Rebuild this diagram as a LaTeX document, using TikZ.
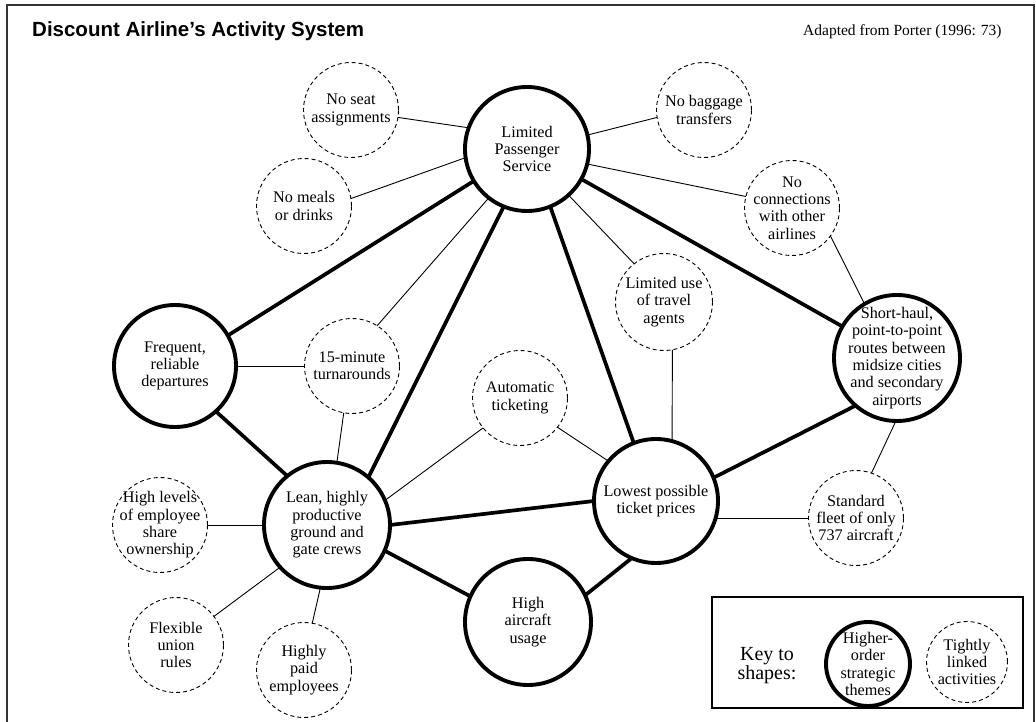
\documentclass[tikz,border=0pt]{standalone}
\usepackage{fontspec}
\setmainfont{Liberation Serif}
\newfontfamily\headfont{Liberation Sans}
\begin{document}
\begin{tikzpicture}[x=1pt,y=-1pt,
  theme/.style={circle, draw, line width=3.9pt, fill=white, inner sep=0pt, outer sep=0pt, minimum size=124pt},
  activity/.style={circle, draw, dash pattern=on 4pt off 3pt, line width=0.9pt, fill=white, inner sep=0pt, outer sep=0pt, minimum size=95pt},
  txt/.style={align=center, inner sep=0pt, font=\fontsize{16.2}{17.4}\selectfont},
  tie/.style={line width=3.7pt},
  link/.style={line width=0.9pt}]
\useasboundingbox (0,0) rectangle (1036,722);

% outer frame
\draw[line width=1.3pt, black!80] (1034,722) -- (1034,5) -- (7,5) -- (7,722);

% headings
\node[anchor=base west, inner sep=0pt, font=\headfont\bfseries\fontsize{20.5}{24}\selectfont] (title) at (32,37) {Discount Airline’s Activity System};
\node[anchor=base west, inner sep=0pt, font=\fontsize{15.5}{18}\selectfont] (source) at (803,36) {Adapted from Porter (1996: 73)};

% higher-order strategic themes
\node[theme] (lps)  at (527,149) {};
\node[theme, minimum size=122pt] (fr) at (175,366) {};
\node[theme, minimum size=126pt] (lean) at (327,525) {};
\node[theme] (lo)   at (656,501) {};
\node[theme, minimum size=126pt] (sh) at (897,358) {};
\node[theme, minimum size=126pt] (ha) at (528,622) {};

% tightly linked activities
\node[activity] (ns) at (351,110) {};
\node[activity] (nm) at (304,206) {};
\node[activity] (nb) at (704,110) {};
\node[activity] (nc) at (792,208) {};
\node[activity, minimum size=97pt] (lu) at (664,302) {};
\node[activity] (tm) at (352,366) {};
\node[activity] (autotk) at (520,398) {};
\node[activity] (sf) at (856,518) {};
\node[activity] (hl) at (160,525) {};
\node[activity] (fx) at (176,645) {};
\node[activity] (hp) at (304,670) {};

% labels
\node[txt] (lps-t) at (lps) {Limited\\Passenger\\Service};
\node[txt] (fr-t) at (fr) {Frequent,\\reliable\\departures};
\node[txt] (lean-t) at (lean) {Lean, highly\\productive\\ground and\\gate crews};
\node[txt] (lo-t) at (lo) {Lowest possible\\ticket prices};
\node[txt] (sh-t) at (sh) {Short-haul,\\point-to-point\\routes between\\midsize cities\\and secondary\\airports};
\node[txt] (ha-t) at (ha) {High\\aircraft\\usage};
\node[txt] (ns-t) at (ns) {No seat\\assignments};
\node[txt] (nm-t) at (nm) {No meals\\or drinks};
\node[txt] (nb-t) at (nb) {No baggage\\transfers};
\node[txt] (nc-t) at (nc) {No\\connections\\with other\\airlines};
\node[txt] (lu-t) at (lu) {Limited use\\of travel\\agents};
\node[txt] (tm-t) at (tm) {15-minute\\turnarounds};
\node[txt] (autotk-t) at (autotk) {Automatic\\ticketing};
\node[txt] (sf-t) at (sf) {Standard\\fleet of only\\737 aircraft};
\node[txt] (hl-t) at (hl) {High levels\\of employee\\share\\ownership};
\node[txt] (fx-t) at (fx) {Flexible\\union\\rules};
\node[txt] (hp-t) at (hp) {Highly\\paid\\employees};

% links between themes
\draw[tie] (lps.-149.2) -- (fr.30.4);
\draw[tie] (lps.-112.5) -- (lean.49.5);
\draw[tie] (lps.-68.7) -- (lo.111.5);
\draw[tie] (lps.-29.6) -- (sh.150);
\draw[tie] (fr.-48.7) -- (lean.129.8);
\draw[tie] (lean.-0.9) -- (lo.180.9);
\draw[tie] (lean.-24.1) -- (ha.156);
\draw[tie] (lo.-113.2) -- (ha.25);
\draw[tie] (sh.-131.9) -- (lo.22.8);

% links to activities
\draw[link] (ns.-9.5) -- (lps.160.2);
\draw[link] (nm.9.5) -- (lps.188);
\draw[link] (lps.13.8) -- (nb.189.7);
\draw[link] (lps.-14.7) -- (nc.166.8);
\draw[link] (lps.-48.6) -- (lu.128.7);
\draw[link] (lps.-128.4) -- (tm.58.6);
\draw[link] (nc.-36) -- (sh.121.3);
\draw[link] (fr.east) -- (tm.west);
\draw[link] (tm.-100.6) -- (lean.81.9);
\draw[link] (autotk.-141.3) -- (lean.23.9);
\draw[link] (autotk.-38.7) -- (lo.140.5);
\draw[link] (lu.-80.6) -- (lo.75.5);
\draw[link] (sf.west) -- (sf.west -| lo.-15);
\draw[link] (sh.-91.8) -- (sf.71.6);
\draw[link] (lean.west) -- (hl.east);
\draw[link] (lean.-138.7) -- (fx.37.1);
\draw[link] (lean.-96.9) -- (hp.80.5);

% key
\draw[line width=1.2pt] (712,597) rectangle (1023,708);
\node[align=center, inner sep=0pt, font=\fontsize{20}{19}\selectfont] (key-t) at (767,666) {Key to\\shapes:};
\node[theme, minimum size=84pt] (key-th) at (868,664) {};
\node[txt] (key-th-t) at (key-th) {Higher-\\order\\strategic\\themes};
\node[activity, minimum size=81pt] (key-ac) at (967,662) {};
\node[txt] (key-ac-t) at (key-ac) {Tightly\\linked\\activities};
\end{tikzpicture}
\end{document}
